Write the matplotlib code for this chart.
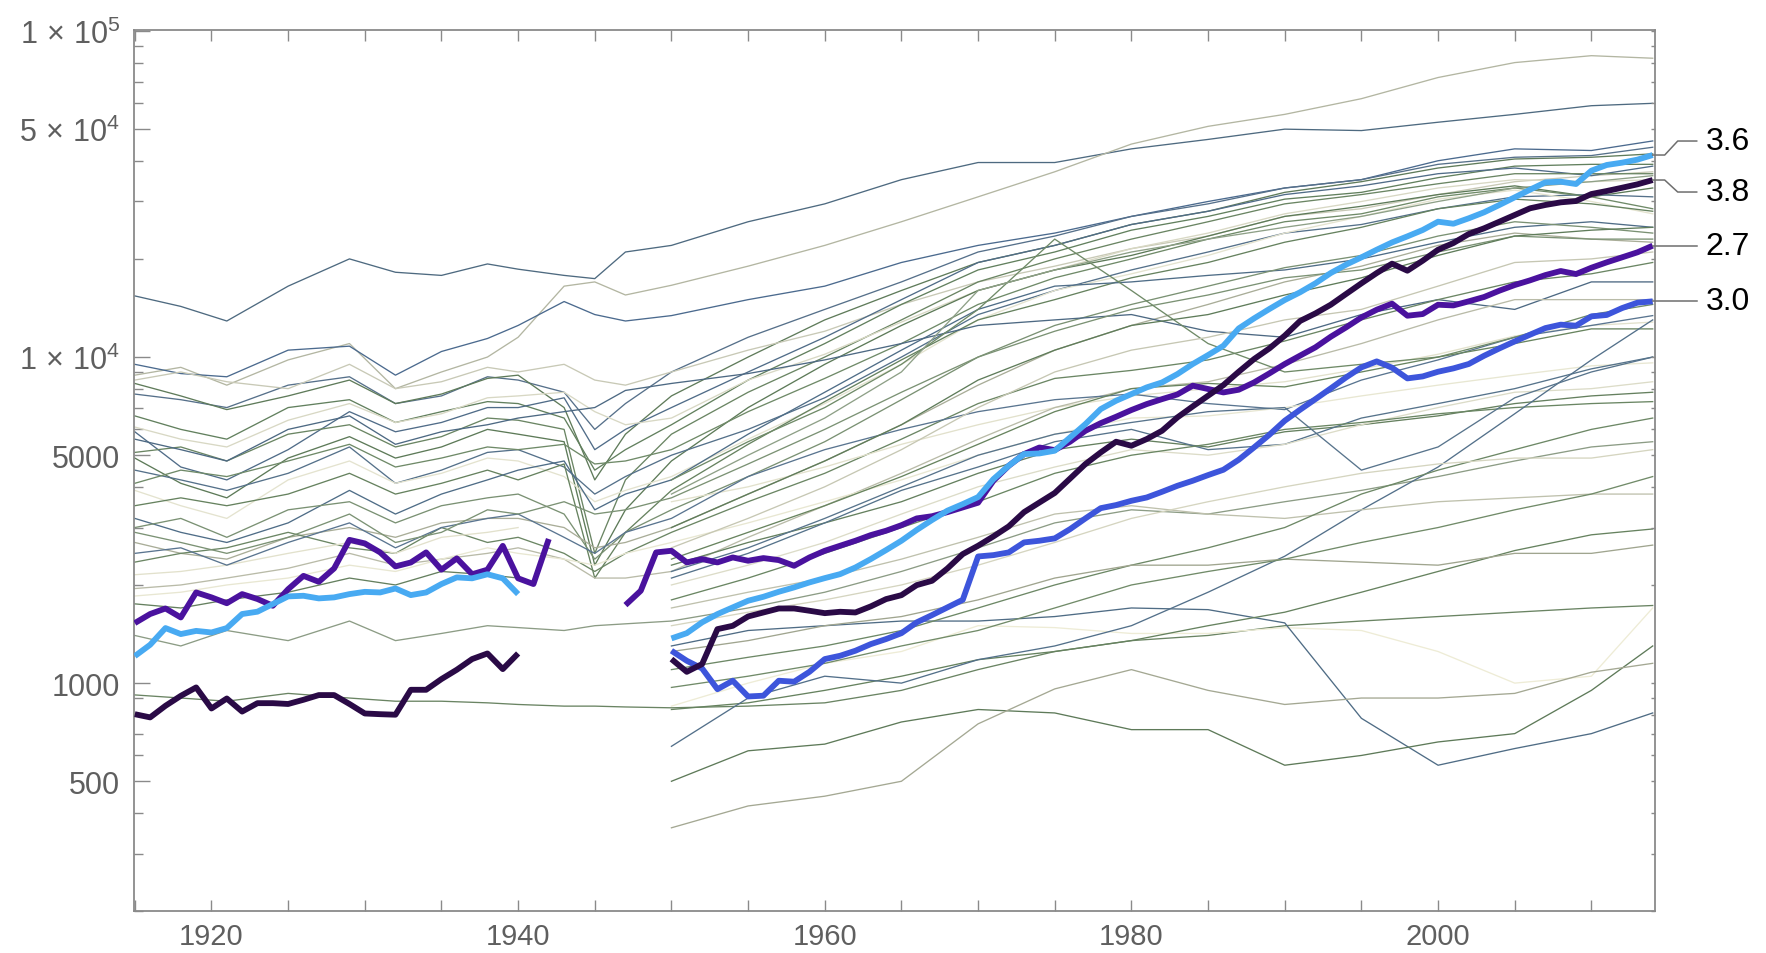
import numpy as np
import matplotlib
matplotlib.use("Agg")
import matplotlib.pyplot as plt
from matplotlib import font_manager
from matplotlib.lines import Line2D
from matplotlib.ticker import FixedLocator, NullFormatter, FuncFormatter

N = None

# ---------------- data ----------------
YEARS = list(range(1915, 2015))

# highlighted series (yearly, 1915-2014)
light_blue = ([1210, 1311, 1475, 1414, 1446, 1430, 1475, 1629, 1656, 1748, 1845, 1853, 1819,
               1832, 1875, 1905, 1897, 1951, 1862, 1897, 2013, 2110, 2096, 2157, 2096, 1875]
              + [N] * 9 +
              [1371, 1423, 1536, 1628, 1707, 1789, 1840, 1906, 1966, 2036,
               2099, 2159, 2263, 2401, 2559, 2733, 2950, 3165, 3380, 3540,
               3720, 4224, 4642, 5040, 5063, 5161, 5670, 6230, 6926, 7345,
               7700, 8072, 8360, 8867, 9520, 10140, 10830, 12240, 13140, 14040,
               14960, 15800, 16830, 18100, 19200, 20220, 21340, 22470, 23450, 24530,
               26010, 25640, 26640, 27790, 29270, 30890, 32610, 34340, 34500, 33940,
               37290, 38820, 39460, 40310, 41650])

dark_purple = ([803, 785, 852, 914, 970, 836, 897, 818, 868, 868, 863, 889, 919, 919, 863,
                807, 803, 800, 954, 954, 1029, 1099, 1185, 1233, 1104, 1233]
               + [N] * 9 +
               [1185, 1083, 1144, 1464, 1499, 1601, 1647, 1694, 1694, 1667,
                1639, 1655, 1647, 1719, 1810, 1861, 1998, 2060, 2247, 2487,
                2638, 2818, 3025, 3345, 3580, 3830, 4240, 4697, 5100, 5500,
                5346, 5604, 5943, 6530, 7058, 7610, 8205, 9016, 9860, 10630,
                11630, 12900, 13610, 14470, 15610, 16830, 18100, 19340, 18400, 19750,
                21340, 22370, 23840, 24820, 26010, 27270, 28590, 29270, 29820, 30100,
                31620, 32300, 33060, 33860, 34910])

purple = ([1528, 1629, 1694, 1590, 1897, 1832, 1758, 1875, 1811, 1727, 1941, 2133, 2045, 2248,
           2750, 2682, 2517, 2280, 2344, 2517, 2228, 2413, 2157, 2228, 2636, 2096, 2013, 2767]
          + [N] * 4 +
          [1735, 1920, 2517,
           2546, 2345, 2401, 2345, 2429, 2373, 2418, 2384, 2290, 2429,
           2546, 2638, 2733, 2844, 2933, 3050, 3200, 3250, 3345, 3458,
           3575, 4175, 4640, 5040, 5280, 5185, 5500, 5940, 6270, 6560,
           6880, 7175, 7430, 7680, 8170, 7980, 7790, 7940, 8360, 8910,
           9520, 10100, 10710, 11540, 12330, 13230, 13970, 14580, 13390, 13550,
           14470, 14400, 14820, 15280, 15980, 16630, 17190, 17840, 18360, 17970,
           18790, 19520, 20220, 20950, 21960])

blue = ([N] * 35 +
        [1257, 1171, 1109, 958, 1017, 910, 915, 1017, 1010, 1083,
         1185, 1213, 1257, 1317, 1365, 1423, 1536, 1617, 1707, 1801,
         2446, 2469, 2517, 2701, 2733, 2779, 2967, 3200, 3440, 3516,
         3624, 3710, 3862, 4029, 4175, 4345, 4512, 4843, 5283, 5778,
         6378, 6893, 7430, 8014, 8661, 9297, 9698, 9275, 8601, 8723,
         9016, 9231, 9520, 10090, 10630, 11170, 11710, 12270, 12570, 12480,
         13330, 13460, 14130, 14680, 14820])

HIGHLIGHT_LABELS = ["3.6", "3.8", "2.7", "3.0"]

# background series
BG_YEARS = [1915, 1918, 1921, 1925, 1929, 1932, 1935, 1938, 1940, 1943, 1945, 1947, 1950,
            1955, 1960, 1965, 1970, 1975, 1980, 1985, 1990, 1995, 2000, 2005, 2010, 2014]

s01 = [15400, 14300, 12900, 16500, 20000, 18200, 17800, 19300, 18600, 17800, 17400, 21000, 22000, 26000, 29500, 35000, 39500, 39500, 43500, 46500, 50000, 49500, 52500, 55500, 59000, 60000]
s02 = [8800, 9300, 8200, 9800, 11000, 8000, 9000, 10000, 11500, 16500, 17000, 15500, 16600, 19000, 22000, 26000, 31000, 37000, 45000, 51000, 55500, 62000, 72000, 80000, 84000, 82500]
s03 = [9500, 8900, 8700, 10500, 10800, 8800, 10400, 11400, 12500, 14800, 13500, 12900, 13400, 15000, 16500, 19500, 22000, 24000, 27000, 30000, 33000, 35000, 40000, 43500, 43000, 46000]
s04 = [7700, 7400, 7000, 8200, 8700, 7200, 7600, 8700, 8500, 7800, 6000, 7200, 9000, 11500, 14000, 17000, 21000, 23500, 27000, 29500, 33000, 35000, 39000, 41000, 41500, 44000]
s05 = [8300, 7600, 6900, 7600, 8500, 7200, 7700, 8600, 8800, 7000, 4200, 5800, 7600, 10000, 13000, 16000, 19500, 22000, 25500, 28000, 32000, 34500, 38000, 40500, 41000, 42000]
s06 = [8500, 9000, 8400, 8000, 9500, 8000, 8400, 9300, 9000, 9500, 8500, 8200, 9000, 10500, 12000, 14500, 17000, 19000, 21500, 23500, 27000, 28500, 31500, 34500, 36000, 37000]
s07 = [6600, 6000, 5600, 7000, 7400, 6300, 6800, 7300, 7200, 6500, 4500, 5200, 6200, 8500, 11000, 14500, 18500, 21000, 24500, 27000, 30500, 32000, 35500, 38500, 39000, 39000]
s08 = [5900, 4600, 4200, 5200, 6800, 5900, 6300, 7000, 7000, 7500, 5200, 6000, 7000, 9000, 11500, 15000, 19500, 22000, 25500, 28000, 31500, 33500, 36500, 38000, 36000, 38500]
s09 = [5100, 5300, 4800, 5800, 6200, 5300, 5700, 6500, 6400, 6000, 2500, 4200, 5800, 7800, 10000, 13000, 17000, 20000, 23000, 26000, 29500, 31500, 34000, 36500, 36500, 36500]
s10 = [6100, 5600, 5300, 6400, 7200, 6300, 6700, 7500, 7600, 7800, 6800, 6200, 6500, 8500, 10200, 12800, 16000, 18500, 21500, 24000, 27500, 30000, 33000, 35000, 34500, 35000]
s11 = [4900, 4100, 3700, 4900, 5700, 4900, 5300, 6000, 5800, 5500, 2300, 3400, 4800, 7000, 9500, 12500, 16000, 18500, 20500, 23500, 27000, 29000, 31500, 33500, 31000, 33000]
s12 = [4500, 4200, 3900, 4400, 5300, 4100, 4500, 5100, 5200, 4600, 3800, 4300, 5000, 6000, 7500, 10000, 13500, 16000, 18500, 21000, 24000, 25500, 28500, 31000, 31500, 31000]
s13 = [4100, 4500, 4300, 4800, 5400, 4600, 4900, 5300, 5200, 5400, 4700, 4800, 5200, 6800, 8600, 11000, 14500, 17500, 20000, 23000, 26000, 27500, 31000, 33000, 31000, 28500]
s14 = [3900, 3500, 3200, 4200, 4800, 4100, 4400, 4900, 4800, 4300, 3600, 3900, 4300, 5600, 7200, 9500, 13000, 16000, 18000, 20500, 24000, 27000, 30500, 32500, 30000, 27500]
s15 = [3500, 3700, 3500, 3800, 4400, 3800, 4100, 4500, 4200, 4700, 2100, 2900, 3900, 5400, 7300, 9800, 13000, 15000, 17500, 19500, 22500, 25000, 28500, 30500, 29500, 28000]
s16 = [3200, 2900, 2700, 3100, 3900, 3300, 3800, 4200, 4500, 4800, 3400, 3800, 4200, 5800, 7800, 10500, 14000, 16500, 17000, 17800, 18500, 20000, 22500, 25000, 26000, 25000]
s17 = [3000, 3200, 2800, 3400, 3600, 3100, 3500, 3700, 3800, 3300, 2400, 2900, 3400, 4300, 5500, 7400, 10000, 12500, 14500, 16500, 18800, 20500, 23500, 26000, 25000, 24000]
s18 = [2700, 2500, 2400, 2800, 3000, 2800, 3100, 3200, 3200, 3000, 2600, 2700, 3000, 3800, 4800, 6200, 8200, 10500, 12500, 14500, 17000, 19000, 22000, 24000, 23000, 22500]
s19 = [5600, 5200, 4800, 6000, 6600, 5400, 5900, 6200, 6500, 6800, 7000, 7900, 8300, 8900, 9800, 11000, 12500, 13000, 13500, 12000, 11500, 13500, 15000, 14000, 17000, 17000]
s20 = [2350, 2500, 2600, 2900, 2600, 2500, 3000, 2700, 2800, 2500, 2200, 2500, 2900, 3600, 4400, 5600, 7200, 8600, 9100, 9800, 11200, 13000, 15000, 17000, 18000, 19500]
s21 = [2150, 2200, 2300, 2500, 2700, 2500, 2800, 2900, 3000, N, N, N, 3600, 4000, 4600, 5400, 6200, 7000, 7600, 8000, 8400, 9200, 10200, 11600, 12500, 12800]
s22 = [1950, 2000, 2100, 2250, 2500, 2300, 2400, 2500, 2600, 2400, 2100, 2100, 2200, 2800, 3500, 4400, 5600, 7000, 8000, 8400, 9500, 11000, 13000, 15000, 15000, 15000]
s23 = [1750, 1700, 1800, 1900, 2100, 2000, 2200, 2150, 2100, N, N, N, 2300, 2700, 3100, 3600, 4400, 5200, 5600, 5300, 5900, 6200, 6600, 7200, 7600, 7800]
s24 = [920, 900, 880, 930, 900, 880, 880, 870, 860, 850, 850, 845, 840, 850, 870, 950, 1100, 1250, 1350, 1400, 1500, 1550, 1600, 1650, 1700, 1730]
s25 = [1400, 1300, 1450, 1350, 1550, 1350, 1420, 1500, 1480, 1450, 1500, 1520, 1550, 1700, 1900, 2200, 2600, 3100, 3400, 3300, 3600, 3900, 4300, 4800, 5300, 5500]
s26 = [2500, 2600, 2300, 2700, 3100, 2600, 3000, 3200, 3300, 2800, 2500, 2900, 3200, 4300, 5200, 6000, 6800, 7400, 7700, 7200, 6900, 8500, 9800, 11500, 12500, 13400]
s27 = [1850, 1900, 2000, 2100, 2300, 2200, 2400, 2600, 2500, 2400, 2300, 2500, 2700, 3100, 3600, 4200, 5000, 5800, 6500, 6600, 7000, 7600, 8200, 8800, 9400, 9600]
s28 = [2900, 2700, 2500, 2800, 3300, 2700, 2900, 3400, 3300, 3600, 3300, 3400, 3700, 4700, 6000, 7800, 10000, 12000, 14000, 15500, 17500, 18500, 21000, 23500, 23000, 23000]
p01 = [N] * 12 + [4200, 5500, 7000, 9500, 14000, 23000, 16000, 11000, 9000, 9500, 10000, 11500, 13500, 14500]
p02 = [N] * 12 + [3800, 5000, 6500, 9000, 16000, 18500, 21000, 23000, 25000, 27000, 30000, 33000, 34500, 36000]
p03 = [N] * 12 + [3000, 3800, 4800, 6200, 8500, 10500, 12500, 13500, 15500, 17500, 20500, 23500, 24500, 25000]
p04 = [N] * 12 + [2600, 3200, 4000, 5200, 7000, 9000, 10500, 11500, 13000, 14000, 16500, 19500, 20000, 21000]
p05 = [N] * 12 + [2400, 2900, 3500, 4300, 5400, 6800, 8000, 8300, 8100, 9000, 10000, 11000, 12200, 12200]
p06 = [N] * 12 + [2100, 2500, 3100, 3900, 4600, 5500, 6000, 5200, 5400, 6500, 7200, 8000, 9200, 10000]
p07 = [N] * 12 + [2000, 2300, 2700, 3300, 4000, 4600, 5200, 5000, 5400, 6200, 7000, 7800, 8000, 8400]
p08 = [N] * 12 + [1800, 2100, 2500, 3000, 3600, 4400, 5000, 5400, 6000, 6300, 6700, 7000, 7200, 7300]
p09 = [N] * 12 + [850, 1000, 1150, 1250, 1500, 1480, 1420, 1420, 1480, 1450, 1250, 1000, 1050, 1700]
p10 = [N] * 12 + [1300, 1450, 1500, 1550, 1550, 1600, 1700, 1680, 1530, 780, 560, 630, 700, 810]
p11 = [N] * 12 + [500, 620, 650, 760, 830, 810, 720, 720, 560, 600, 660, 700, 950, 1300]
p12 = [N] * 12 + [360, 420, 450, 500, 750, 960, 1100, 950, 860, 900, 900, 930, 1080, 1150]
p13 = [N] * 12 + [830, 870, 950, 1050, 1180, 1250, 1350, 1500, 1650, 1900, 2200, 2550, 2850, 2970]
p14 = [N] * 12 + [640, 900, 1050, 1000, 1180, 1300, 1500, 1900, 2450, 3400, 4600, 6700, 9800, 13000]
p15 = [N] * 12 + [1700, 1900, 2100, 2400, 2800, 3300, 3500, 3300, 3200, 3400, 3600, 3700, 3800, 3800]
p16 = [N] * 12 + [1100, 1200, 1300, 1450, 1700, 2000, 2300, 2600, 3000, 3800, 4500, 5200, 6000, 6500]
p17 = [N] * 12 + [1500, 1650, 1800, 2000, 2300, 2700, 3200, 3600, 4000, 4400, 4700, 4900, 4900, 5200]
p18 = [N] * 12 + [1250, 1350, 1500, 1600, 1800, 2100, 2300, 2300, 2400, 2350, 2300, 2500, 2500, 2650]
p19 = [N] * 12 + [970, 1050, 1150, 1300, 1450, 1700, 2000, 2200, 2400, 2700, 3000, 3400, 3800, 4300]
p20 = [N] * 12 + [2200, 2600, 3200, 4000, 5000, 5800, 6300, 6800, 7000, 4500, 5300, 7500, 9000, 10000]

BACKGROUND = [s01, s02, s03, s04, s05, s06, s07, s08, s09, s10, s11, s12, s13, s14,
              s15, s16, s17, s18, s19, s20, s21, s22, s23, s24, s25, s26, s27, s28,
              p01, p02, p03, p04, p05, p06, p07, p08, p09, p10, p11, p12, p13,
              p14, p15, p16, p17, p18, p19, p20]

# ---------------- styles ----------------
BG_COLORS = ['#4e6a80', '#b3b6a2', '#4b6a8e', '#56708a', '#5f7b5a', '#c8c9b6', '#62805e',
             '#506c88', '#6a8563', '#d8d8c4', '#5d7a58', '#55718a', '#6f8a68', '#e4e3cf',
             '#66825f', '#4f6d87', '#7a9173', '#a9ad98', '#4d6983', '#6b8664', '#e2e1cc',
             '#b9bba8', '#65805f', '#6a8463', '#8c9c85', '#5a7590', '#e8e7d2', '#7b9274',
             '#6f8a67', '#8ea087', '#5f7c5a', '#c6c7b3', '#68845f', '#56738b', '#dcdcc8',
             '#6a8663', '#eeecd6', '#4f6c85', '#5e7a59', '#a4a893', '#66825f', '#53708a',
             '#bfc1ad', '#6d8866', '#d5d5c0', '#a0a58f', '#718b69', '#58748c']
HL_SERIES = [purple, blue, dark_purple, light_blue]
HL_COLORS = ['#4a129e', '#3d55db', '#2a0a46', '#48aaf2']
LABEL_SERIES = [light_blue, dark_purple, purple, blue]
LABEL_DY = [14, -12, 0, 0]  # pixel offsets of labels from line ends
GRAY = '#8a8a8a'
TXT_GRAY = '#5f5f5f'

names = {f.name for f in font_manager.fontManager.ttflist}
plt.rcParams['font.family'] = ['Liberation Sans', 'DejaVu Sans']
plt.rcParams['mathtext.fontset'] = 'custom'
plt.rcParams['mathtext.rm'] = 'Liberation Sans'
plt.rcParams['mathtext.it'] = 'Liberation Sans:italic'
plt.rcParams['mathtext.bf'] = 'Liberation Sans:bold'


def arr(v):
    return np.array([np.nan if x is None else x for x in v], dtype=float)


fig = plt.figure(figsize=(17.66, 9.54), dpi=100)
ax = fig.add_axes([0.0759, 0.0440, 0.86125, 0.9235])

for vals, col in zip(BACKGROUND, BG_COLORS):
    ax.plot(BG_YEARS, arr(vals), color=col, lw=0.95, zorder=2)

for vals, col in zip(HL_SERIES, HL_COLORS):
    ax.plot(YEARS, arr(vals), color=col, lw=4.2, zorder=5,
            solid_joinstyle='round', solid_capstyle='butt')

ax.set_yscale('log')
ax.set_xlim(1914.95, 2014.15)
ax.set_ylim(200, 1.007e5)

ymaj = [500, 1000, 5000, 1e4, 5e4, 1e5]
ylab = ['500', '1000', '5000', r'$1\,\times\,10^{4}$', r'$5\,\times\,10^{4}$', r'$1\,\times\,10^{5}$']
ymin = [m * d for d in (100, 1000, 10000) for m in (2, 3, 4, 6, 7, 8, 9)]
ax.yaxis.set_major_locator(FixedLocator(ymaj))
ax.set_yticklabels(ylab)
ax.yaxis.set_minor_locator(FixedLocator(ymin))
ax.yaxis.set_minor_formatter(NullFormatter())

ax.xaxis.set_major_locator(FixedLocator(list(range(1915, 2015, 5))))
ax.xaxis.set_major_formatter(FuncFormatter(lambda v, p: f"{int(round(v))}" if int(round(v)) % 20 == 0 else ""))

ax.tick_params(axis='x', which='major', direction='in', length=8, width=1.0, color=GRAY,
               top=True, bottom=True, labelsize=21, labelcolor=TXT_GRAY, pad=8)
ax.tick_params(axis='y', which='major', direction='in', length=11.5, width=1.0, color=GRAY,
               left=True, right=False, labelsize=22, labelcolor=TXT_GRAY, pad=10)
ax.tick_params(axis='y', which='minor', direction='in', length=6.5, width=1.0, color=GRAY,
               left=True, right=False)
for sp in ax.spines.values():
    sp.set_color(GRAY)
    sp.set_linewidth(1.3)

if 'Liberation Sans Narrow' in names:
    for lab in ax.get_xticklabels():
        lab.set_family('Liberation Sans Narrow')
        lab.set_fontsize(22)

# short ticks on right frame
ax2 = ax.twinx()
ax2.set_yscale('log')
ax2.set_ylim(ax.get_ylim())
ax2.yaxis.set_major_locator(FixedLocator(ymaj))
ax2.yaxis.set_minor_locator(FixedLocator(ymin))
ax2.yaxis.set_major_formatter(NullFormatter())
ax2.yaxis.set_minor_formatter(NullFormatter())
ax2.tick_params(axis='y', which='both', direction='in', length=3, width=1.0, color=GRAY,
                labelright=False)
for sp in ax2.spines.values():
    sp.set_visible(False)

fig.canvas.draw()
inv = fig.transFigure.inverted()
for vals, txt, dy in zip(LABEL_SERIES, HIGHLIGHT_LABELS, LABEL_DY):
    xd, yd = ax.transData.transform((YEARS[-1], vals[-1]))
    ly = yd + dy
    pts = inv.transform([(xd, yd), (xd + 12, yd), (xd + 25, ly), (xd + 44, ly)])
    fig.add_artist(Line2D(pts[:, 0], pts[:, 1], color='#6e6e6e', lw=1.1))
    fx, fy = inv.transform((xd + 53, ly))
    fig.text(fx, fy, txt, fontsize=23, va='center', ha='left', color='black')

fig.savefig('out.png', dpi=100)
